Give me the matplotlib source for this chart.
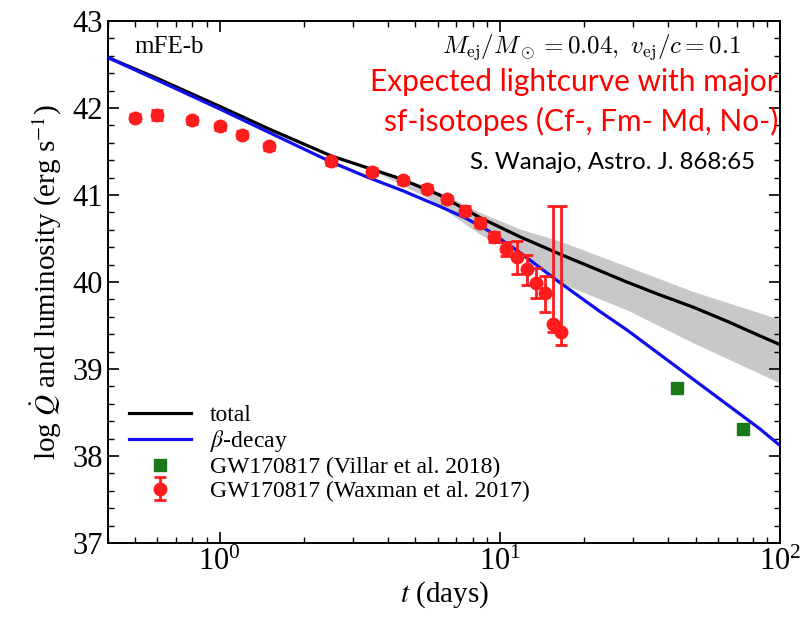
import numpy as np
import matplotlib
matplotlib.use("Agg")
import matplotlib.pyplot as plt
from matplotlib.ticker import MultipleLocator

plt.rcParams['font.family'] = ['Liberation Serif', 'DejaVu Serif']
plt.rcParams['mathtext.fontset'] = 'stix'

# model curves
t_total = [0.4, 0.6, 1.0, 1.5, 2.5, 4.4, 6.1, 8.5, 11.8, 16.4, 21.6, 28.4, 37.4, 49.1, 64.6, 84.9, 100.0]
total = [42.58, 42.34, 42.02, 41.76, 41.45, 41.19, 41.0, 40.74, 40.52, 40.32, 40.16, 40.0, 39.85, 39.71, 39.55, 39.38, 39.28]

t_beta = [0.4, 0.6, 1.0, 1.5, 2.5, 3.4, 4.5, 6.1, 7.5, 9.0, 11.8, 15.8, 22.8, 28.4, 49.1, 84.9, 100.0]
beta = [42.58, 42.32, 41.99, 41.72, 41.38, 41.20, 41.05, 40.87, 40.74, 40.60, 40.34, 40.03, 39.66, 39.45, 38.88, 38.31, 38.12]

# uncertainty band on total
t_band = [3.5, 5.5, 8.5, 11.8, 16.4, 28.4, 49.1, 100.0]
band_hi = [41.29, 41.10, 40.80, 40.61, 40.47, 40.18, 39.89, 39.57]
band_lo = [41.29, 40.97, 40.55, 40.30, 39.99, 39.68, 39.30, 38.84]

# GW170817 (Villar et al. 2018)
t_villar = [43.0, 74.0]
L_villar = [38.78, 38.31]

# GW170817 (Waxman et al. 2017)
t_wax = [0.5, 0.6, 0.8, 1.0, 1.2, 1.5, 2.5, 3.5, 4.5, 5.5, 6.5, 7.5, 8.5, 9.5, 10.5, 11.5, 12.5, 13.5, 14.5, 15.5, 16.5]
L_wax = [41.89, 41.92, 41.86, 41.79, 41.69, 41.56, 41.39, 41.27, 41.17, 41.07, 40.95, 40.82, 40.68, 40.52, 40.38, 40.29, 40.15, 39.99, 39.87, 39.52, 39.42]
err_lo = [0.04, 0.06, 0.04, 0.04, 0.04, 0.04, 0.04, 0.04, 0.04, 0.04, 0.04, 0.05, 0.05, 0.06, 0.08, 0.20, 0.18, 0.17, 0.21, 0.10, 0.14]
err_hi = [0.04, 0.06, 0.04, 0.04, 0.04, 0.04, 0.04, 0.04, 0.04, 0.04, 0.04, 0.05, 0.05, 0.06, 0.08, 0.18, 0.16, 0.17, 0.20, 1.35, 1.45]

fig = plt.figure(figsize=(8.12, 6.2), dpi=100)
ax = fig.add_axes([108/812, 1-543/620, 672/812, 522/620])

ax.fill_between(t_band, band_lo, band_hi, color='#c8c8c8', lw=0, zorder=1)
ax.plot(t_total, total, color='black', lw=2.3, label='total', zorder=3)
ax.plot(t_beta, beta, color='#1010ee', lw=2.3, label=r'$\beta$-decay', zorder=3)
ax.plot(t_villar, L_villar, 's', color='#1a7a1a', ms=9, ls='none',
        label='GW170817 (Villar et al. 2018)', zorder=4)
ax.errorbar(t_wax, L_wax, yerr=[err_lo, err_hi], fmt='o', color='#ff1c1c',
            ms=9, elinewidth=2, capsize=4.5, capthick=2,
            label='GW170817 (Waxman et al. 2017)', zorder=5)

ax.set_xscale('log')
ax.set_xlim(0.4, 100)
ax.set_ylim(37, 43)
ax.yaxis.set_major_locator(MultipleLocator(1))
ax.yaxis.set_minor_locator(MultipleLocator(0.2))
ax.tick_params(which='both', direction='in', top=True, right=True, labelsize=22)
ax.tick_params(which='major', length=8, width=1.2)
ax.tick_params(which='minor', length=4, width=1)
for s in ax.spines.values():
    s.set_linewidth(1.4)

ax.set_xlabel(r'$t$ (days)', fontsize=21, labelpad=2)
ax.set_ylabel(r'log $\dot{Q}$ and luminosity (erg s$^{-1}$)', fontsize=21, labelpad=6)

ax.legend(loc='lower left', bbox_to_anchor=(0.0, 0.038), frameon=False, fontsize=17,
          handlelength=2.6, labelspacing=0.1, handletextpad=0.8)

ax.text(0.04, 0.95, 'mFE-b', transform=ax.transAxes, fontsize=18, va='center', ha='left')
ax.text(0.942, 0.95, r'$M_{\rm ej}/M_\odot=0.04,\ v_{\rm ej}/c=0.1$', transform=ax.transAxes,
        fontsize=18, va='center', ha='right', math_fontfamily='cm')
ax.text(0.997, 0.883, 'Expected lightcurve with major', transform=ax.transAxes, color='red',
        fontsize=21.5, va='center', ha='right', family='Lato')
ax.text(0.997, 0.807, 'sf-isotopes (Cf-, Fm- Md, No-)', transform=ax.transAxes, color='red',
        fontsize=21.5, va='center', ha='right', family='Lato')
ax.text(0.963, 0.728, 'S. Wanajo, Astro. J. 868:65', transform=ax.transAxes, color='black',
        fontsize=17.3, va='center', ha='right', family='Lato')

fig.savefig('out.png', dpi=100)
